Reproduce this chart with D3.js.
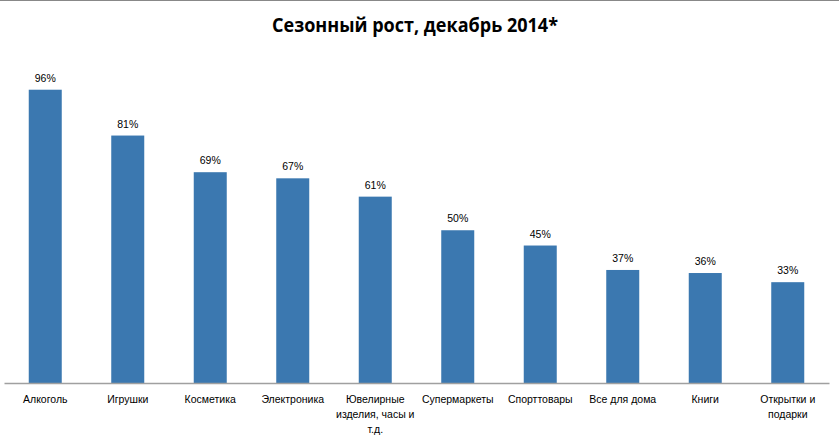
<!DOCTYPE html>
<html><head><meta charset="utf-8">
<script src="https://cdn.jsdelivr.net/npm/d3@7"></script>
<style>body{margin:0;background:#fff}svg{display:block}</style>
</head><body>
<script>
const categories = ["Алкоголь","Игрушки","Косметика","Электроника","Ювелирные|изделия, часы и|т.д.","Супермаркеты","Спорттовары","Все для дома","Книги","Открытки и|подарки"];
const values = [96,81,69,67,61,50,45,37,36,33];
const title = "Сезонный рост, декабрь 2014*";

const W=839,H=441;
const svg=d3.select("body").append("svg").attr("width",W).attr("height",H);
svg.append("line").attr("x1",0).attr("x2",W).attr("y1",0.5).attr("y2",0.5).attr("stroke","#888").attr("stroke-width",1);
svg.append("text").attr("x",415).attr("y",32).attr("text-anchor","middle")
  .attr("font-family","Open Sans, Liberation Sans, sans-serif").attr("font-weight","bold").attr("font-size",19)
  .attr("textLength",286).attr("lengthAdjust","spacingAndGlyphs").attr("fill","#000").text(title);

const x=d3.scaleBand().domain(d3.range(categories.length)).range([4,829]).paddingInner(0.6).paddingOuter(0.3);
const y=d3.scaleLinear().domain([0,100]).range([383,77.5]);
const font="Liberation Sans, Arial, sans-serif";

svg.selectAll("rect.bar").data(values).join("rect").attr("class","bar")
  .attr("x",(d,i)=>x(i)).attr("width",x.bandwidth()).attr("y",d=>y(d)).attr("height",d=>y(0)-y(d)).attr("fill","#3b78b0");

svg.selectAll("text.val").data(values).join("text").attr("class","val")
  .attr("x",(d,i)=>x(i)+x.bandwidth()/2).attr("y",d=>y(d)-8).attr("text-anchor","middle")
  .attr("font-family",font).attr("font-size",10.5).attr("fill","#000").text(d=>d+"%");

const axis=d3.axisBottom(x).tickSize(0).tickFormat("");
const g=svg.append("g").attr("transform","translate(0,383)").call(axis);
g.select(".domain").attr("stroke","#a0a0a0").attr("stroke-width",1.3);

categories.forEach((c,i)=>{
  const t=svg.append("text").attr("x",x(i)+x.bandwidth()/2).attr("y",403).attr("text-anchor","middle")
    .attr("font-family",font).attr("font-size",10.5).attr("fill","#000");
  c.split("|").forEach((ln,j)=>t.append("tspan").attr("x",x(i)+x.bandwidth()/2).attr("dy",j?15:0).text(ln));
});
</script>
</body></html>
